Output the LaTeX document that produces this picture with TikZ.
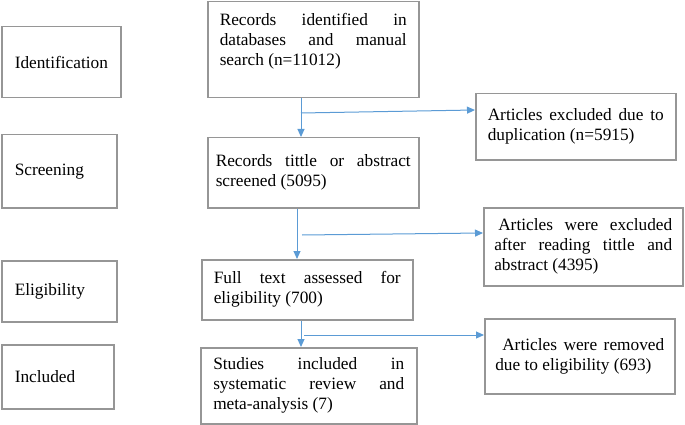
\documentclass[tikz,border=0pt]{standalone}
\usepackage{fontspec}
\setmainfont{Liberation Serif}
\usetikzlibrary{arrows.meta,calc}
\definecolor{boxgray}{RGB}{150,150,150}
\definecolor{arrblue}{RGB}{91,155,213}
\begin{document}
\begin{tikzpicture}[x=1pt,y=-1pt,
  box/.style={draw=boxgray,line width=1.5pt,anchor=north west,inner sep=0pt,
    font=\fontsize{17.3}{20}\selectfont},
  jbox/.style={box,align=justify},
  lbox/.style={box,align=left},
  arr/.style={draw=arrblue,line width=1pt,-{Triangle[width=7pt,length=8pt]}}]
\useasboundingbox (0,0) rectangle (685,425);
% stage labels
\node[lbox,minimum width=119pt,minimum height=71pt,text width=93pt] (id) at (1,26) {Identification};
\node[lbox,minimum width=115pt,minimum height=73pt,text width=89pt] (scr) at (1,134) {Screening};
\node[lbox,minimum width=115pt,minimum height=61pt,text width=89pt] (eli) at (1,260) {Eligibility};
\node[lbox,minimum width=112pt,minimum height=64pt,text width=86pt] (inc) at (1,344) {Included};
% main column
\node[jbox,minimum width=211pt,minimum height=96pt,text width=187pt] (rec1) at (207,1)
  {Records identified in\linebreak databases and manual\linebreak search (n=11012)\rule[-20pt]{0pt}{1pt}};
\node[jbox,minimum width=211pt,minimum height=70pt,text width=195pt] (rec2) at (207,137)
  {Records tittle or abstract\linebreak screened (5095)};
\node[jbox,minimum width=211pt,minimum height=60pt,text width=187pt] (full) at (201,259)
  {Full text assessed for\linebreak eligibility (700)};
\node[jbox,minimum width=216pt,minimum height=76pt,text width=191pt] (stud) at (200,347)
  {Studies included in\linebreak systematic review and\linebreak meta-analysis (7)};
% exclusions
\node[jbox,minimum width=200pt,minimum height=66pt,text width=176pt] (dup) at (475,93)
  {Articles excluded due to\linebreak duplication (n=5915)};
\node[jbox,minimum width=199pt,minimum height=78pt,text width=178pt] (excl) at (483,207)
  {\hspace*{4pt}Articles were excluded\linebreak after reading tittle and\linebreak abstract (4395)};
\node[jbox,minimum width=190pt,minimum height=75pt,text width=169pt] (rem) at (484,318)
  {\hspace*{7pt}Articles were removed\linebreak due to eligibility (693)};
% connectors
\coordinate (v1) at (301,113);
\coordinate (v2) at (297,235);
\coordinate (b2) at (302,235);
\coordinate (v3) at (301,335);
\coordinate (b3) at (304,335);
\draw[arr] (rec1.south -| v1) -- (rec2.north -| v1);
\draw[arr] (v1) -- ($(dup.north west)+(0,17)$);
\draw[arr] (rec2.south -| v2) -- (full.north -| v2);
\draw[arr] (b2) -- ($(excl.north west)+(0,26)$);
\draw[arr] (full.south -| v3) -- (stud.north -| v3);
\draw[arr] (b3) -- ($(rem.north west)+(0,17)$);
\end{tikzpicture}
\end{document}
